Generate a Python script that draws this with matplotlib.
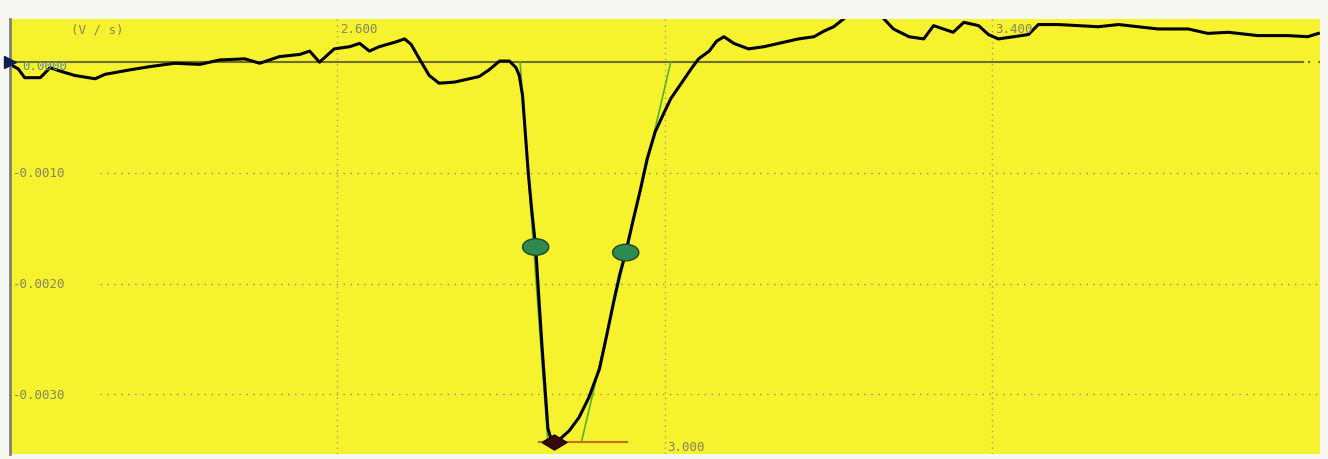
import numpy as np
import matplotlib.pyplot as plt
from matplotlib.patches import Ellipse

# Kurve (Zeit in s, Wert in V/s)
t = [2.200, 2.210, 2.218, 2.237, 2.249, 2.261, 2.279, 2.304, 2.316, 2.346,
     2.371, 2.401, 2.432, 2.456, 2.487, 2.505, 2.529, 2.554, 2.566, 2.578,
     2.596, 2.615, 2.627, 2.639, 2.651, 2.670, 2.682, 2.690, 2.700, 2.712,
     2.724, 2.743, 2.761, 2.773, 2.785, 2.798, 2.810, 2.818, 2.822, 2.826,
     2.829, 2.833, 2.837, 2.842, 2.846, 2.850, 2.854, 2.857, 2.861, 2.866,
     2.871, 2.883, 2.895, 2.907, 2.920, 2.929, 2.938, 2.945, 2.952, 2.961,
     2.970, 2.978, 2.988, 2.998, 3.007, 3.020, 3.032, 3.041, 3.054,
     3.063, 3.072, 3.084, 3.102, 3.121, 3.145, 3.163, 3.182, 3.194, 3.206,
     3.218, 3.230, 3.249, 3.265, 3.279, 3.298, 3.316, 3.328, 3.340, 3.352,
     3.365, 3.383, 3.395, 3.407, 3.426, 3.444, 3.456, 3.480, 3.505, 3.529,
     3.554, 3.578, 3.602, 3.639, 3.663, 3.688, 3.724, 3.761, 3.785, 3.798]
v = [-0.00002, -0.00006, -0.00014, -0.00014, -0.00005, -0.00008, -0.00012, -0.00015, -0.00011, -0.00007,
     -0.00004, -0.00001, -0.00002, 0.00002, 0.00003, -0.00001, 0.00005, 0.00007, 0.00010, 0.00000,
     0.00012, 0.00014, 0.00017, 0.00010, 0.00014, 0.00018, 0.00021, 0.00016, 0.00003, -0.00012,
     -0.00019, -0.00018, -0.00015, -0.00013, -0.00007, 0.00001, 0.00001, -0.00005, -0.00012, -0.00030,
     -0.00060, -0.00100, -0.00132, -0.00167, -0.00214, -0.00259, -0.00300, -0.00331, -0.00341, -0.00344,
     -0.00341, -0.00333, -0.00321, -0.00303, -0.00277, -0.00246, -0.00214, -0.00191, -0.00172, -0.00143,
     -0.00115, -0.00088, -0.00063, -0.00047, -0.00033, -0.00019, -0.00006, 0.00003, 0.00010,
     0.00019, 0.00023, 0.00017, 0.00012, 0.00014, 0.00018, 0.00021, 0.00023, 0.00028, 0.00032,
     0.00039, 0.00046, 0.00050, 0.00041, 0.00030, 0.00023, 0.00021, 0.00033, 0.00030, 0.00027,
     0.00036, 0.00033, 0.00025, 0.00021, 0.00023, 0.00025, 0.00034, 0.00034, 0.00033, 0.00032,
     0.00034, 0.00032, 0.00030, 0.00030, 0.00026, 0.00027, 0.00024, 0.00024, 0.00023, 0.00026]

# Tangenten und Marken
tang_links_t = [2.823, 2.857]
tang_links_v = [0.0, -0.00344]
tang_rechts_t = [3.007, 2.898]
tang_rechts_v = [0.0, -0.00343]
min_t, min_v = 2.865, -0.00343
basis_t = [2.846, 2.953]
halb_t = [2.842, 2.952]
halb_v = [-0.00167, -0.00172]

x_ticks = [2.6, 3.0, 3.4]
x_labels = ['2.600', '3.000', '3.400']
x_label_oben = [True, False, True]
y_ticks = [-0.001, -0.002, -0.003]
y_labels = ['-0.0010', '-0.0020', '-0.0030']

gelb = '#f6f22e'
schrift = '#858560'

fig = plt.figure(figsize=(13.28, 4.6), dpi=100, facecolor='#f7f7f4')
ax = fig.add_axes([10/1328, 5/460, 1310/1328, 435/460])
ax.set_facecolor(gelb)
ax.set_xlim(2.2, 3.8)
ax.set_ylim(-0.00354, 0.00039)
for s in ['top', 'right', 'bottom']:
    ax.spines[s].set_visible(False)
ax.spines['left'].set_color('#808075')
ax.spines['left'].set_linewidth(2)
ax.set_xticks([])
ax.set_yticks([])

# Gitter
for xt in x_ticks:
    ax.axvline(xt, color='#a0a080', lw=1, ls=(0, (1, 3)))
for yt in y_ticks:
    ax.plot([2.31, 3.8], [yt, yt], color='#909070', lw=1, ls=(0, (1, 4)))

# Nulllinie
ax.plot([2.2, 3.779], [0, 0], color='#6e6e28', lw=1.5)
ax.plot([3.785, 3.8], [0, 0], color='#6e6e28', lw=1.5, ls=(0, (1, 4)))

# Tangenten
ax.plot(tang_links_t, tang_links_v, color='#58b030', lw=1.2)
ax.plot(tang_rechts_t, tang_rechts_v, color='#58b030', lw=1.2)
ax.plot(basis_t, [min_v, min_v], color='#c07020', lw=1.5)

# Kurve
ax.plot(t, v, color='black', lw=2.2, solid_joinstyle='round')

# Marken
for xm, ym in zip(halb_t, halb_v):
    ax.add_patch(Ellipse((xm, ym), 0.032, 0.00015, facecolor='#2e8a50',
                         edgecolor='#1a4a20', lw=1, zorder=5))
raute = [(-1, 0), (0, 0.6), (1, 0), (0, -0.6), (-1, 0)]
ax.plot([min_t], [min_v], ls='none', marker=raute, ms=18, mfc='#3a0a0a',
        mec='#200000', clip_on=False, zorder=6)
ax.plot([2.2], [0], ls='none', marker='>', ms=9, color='#102050', clip_on=False, zorder=6)

# Beschriftung
mono = 'DejaVu Sans Mono'
for xt, lab, oben in zip(x_ticks, x_labels, x_label_oben):
    ax.text(xt + 0.003, 0.00036 if oben else -0.00353, lab, family=mono,
            fontsize=9, color=schrift, va='top' if oben else 'bottom', ha='left')
for yt, lab in zip(y_ticks, y_labels):
    ax.text(2.203, yt, lab, family=mono, fontsize=9, color=schrift, va='center', ha='left')
ax.text(2.215, -0.00003, '0.0000', family=mono, fontsize=9, color='#5a8a90', va='center', ha='left')
ax.text(2.275, 0.00036, '(V / s)', family=mono, fontsize=9, color=schrift, va='top', ha='left')

fig.savefig('out.png', dpi=100, facecolor=fig.get_facecolor())
